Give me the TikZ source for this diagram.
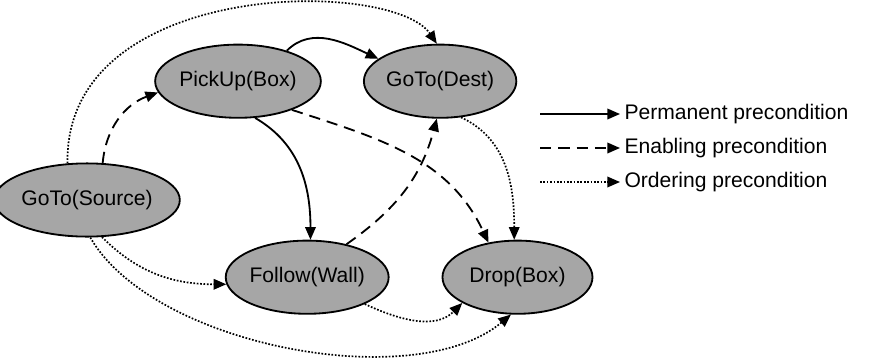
\documentclass[tikz,border=0pt]{standalone}
\usepackage{fontspec}
\setmainfont{Liberation Sans}
\usetikzlibrary{arrows.meta,positioning,shapes.geometric}
\tikzset{
  task/.style={
    draw,
    ellipse,
    line width=1.3pt,
    fill=black!35,
    font=\fontsize{15}{18}\selectfont,
    minimum width=3.75cm,
    minimum height=1.83cm,
    inner sep=0pt
  },
  legendtext/.style={
    anchor=west,
    font=\fontsize{15}{18}\selectfont,
    inner sep=3pt
  },
  permanent/.style={-{Triangle[length=9pt,width=7.5pt]}, line width=1.3pt},
  enabling/.style={permanent, dash pattern=on 8pt off 5pt},
  ordering/.style={-{Triangle[length=9pt,width=7.5pt]}, line width=1.2pt, dash pattern=on 1.2pt off 1.2pt}
}
\begin{document}
\begin{tikzpicture}[node distance=1.05cm and 1.3cm]
  \useasboundingbox (0,0) rectangle (21.85,9.05);
  \node[task] (source) at (2.175,4.05) {GoTo(Source)};
  \node[task] (pickup) at (5.95,7.02) {PickUp(Box)};
  \node[task, right=1.03cm of pickup] (dest) {GoTo(Dest)};
  \node[task] (follow) at (7.68,2.12) {Follow(Wall)};
  \node[task, right=1.3cm of follow] (drop) {Drop(Box)};

  \node[legendtext] (permtext) at (15.5,6.2) {Permanent precondition};
  \node[legendtext] (enabtext) at (15.5,5.35) {Enabling precondition};
  \node[legendtext] (ordtext) at (15.5,4.5) {Ordering precondition};
  \coordinate (permstart) at (13.5,6.2);
  \coordinate (enabstart) at (13.5,5.35);
  \coordinate (ordstart) at (13.5,4.5);

  \draw[enabling] (source.67) to[out=85,in=200] (pickup.188);
  \draw[ordering] (source.118) .. controls (1.6,9.6) and (9.8,9.6) .. (dest.95);
  \draw[permanent] (pickup.32) to[out=45,in=155] (dest.160);
  \draw[permanent] (pickup.-65) to[out=-30,in=90] (follow.85);
  \draw[enabling] (pickup.-28) to[out=-18,in=115] (drop.130);
  \draw[enabling] (follow.40) to[out=35,in=-105] (dest.-95);
  \draw[ordering] (dest.-60) to[out=-25,in=90] (drop.95);
  \draw[ordering] (source.-68) to[out=-45,in=180] (follow.185);
  \draw[ordering] (follow.-25) to[out=-25,in=-135] (drop.-155);
  \draw[ordering] (source.-85) to[out=-60,in=-140,looseness=0.75] (drop.-100);

  \draw[permanent] (permstart) -- (permtext.west);
  \draw[enabling] (enabstart) -- (enabtext.west);
  \draw[ordering] (ordstart) -- (ordtext.west);
\end{tikzpicture}
\end{document}
